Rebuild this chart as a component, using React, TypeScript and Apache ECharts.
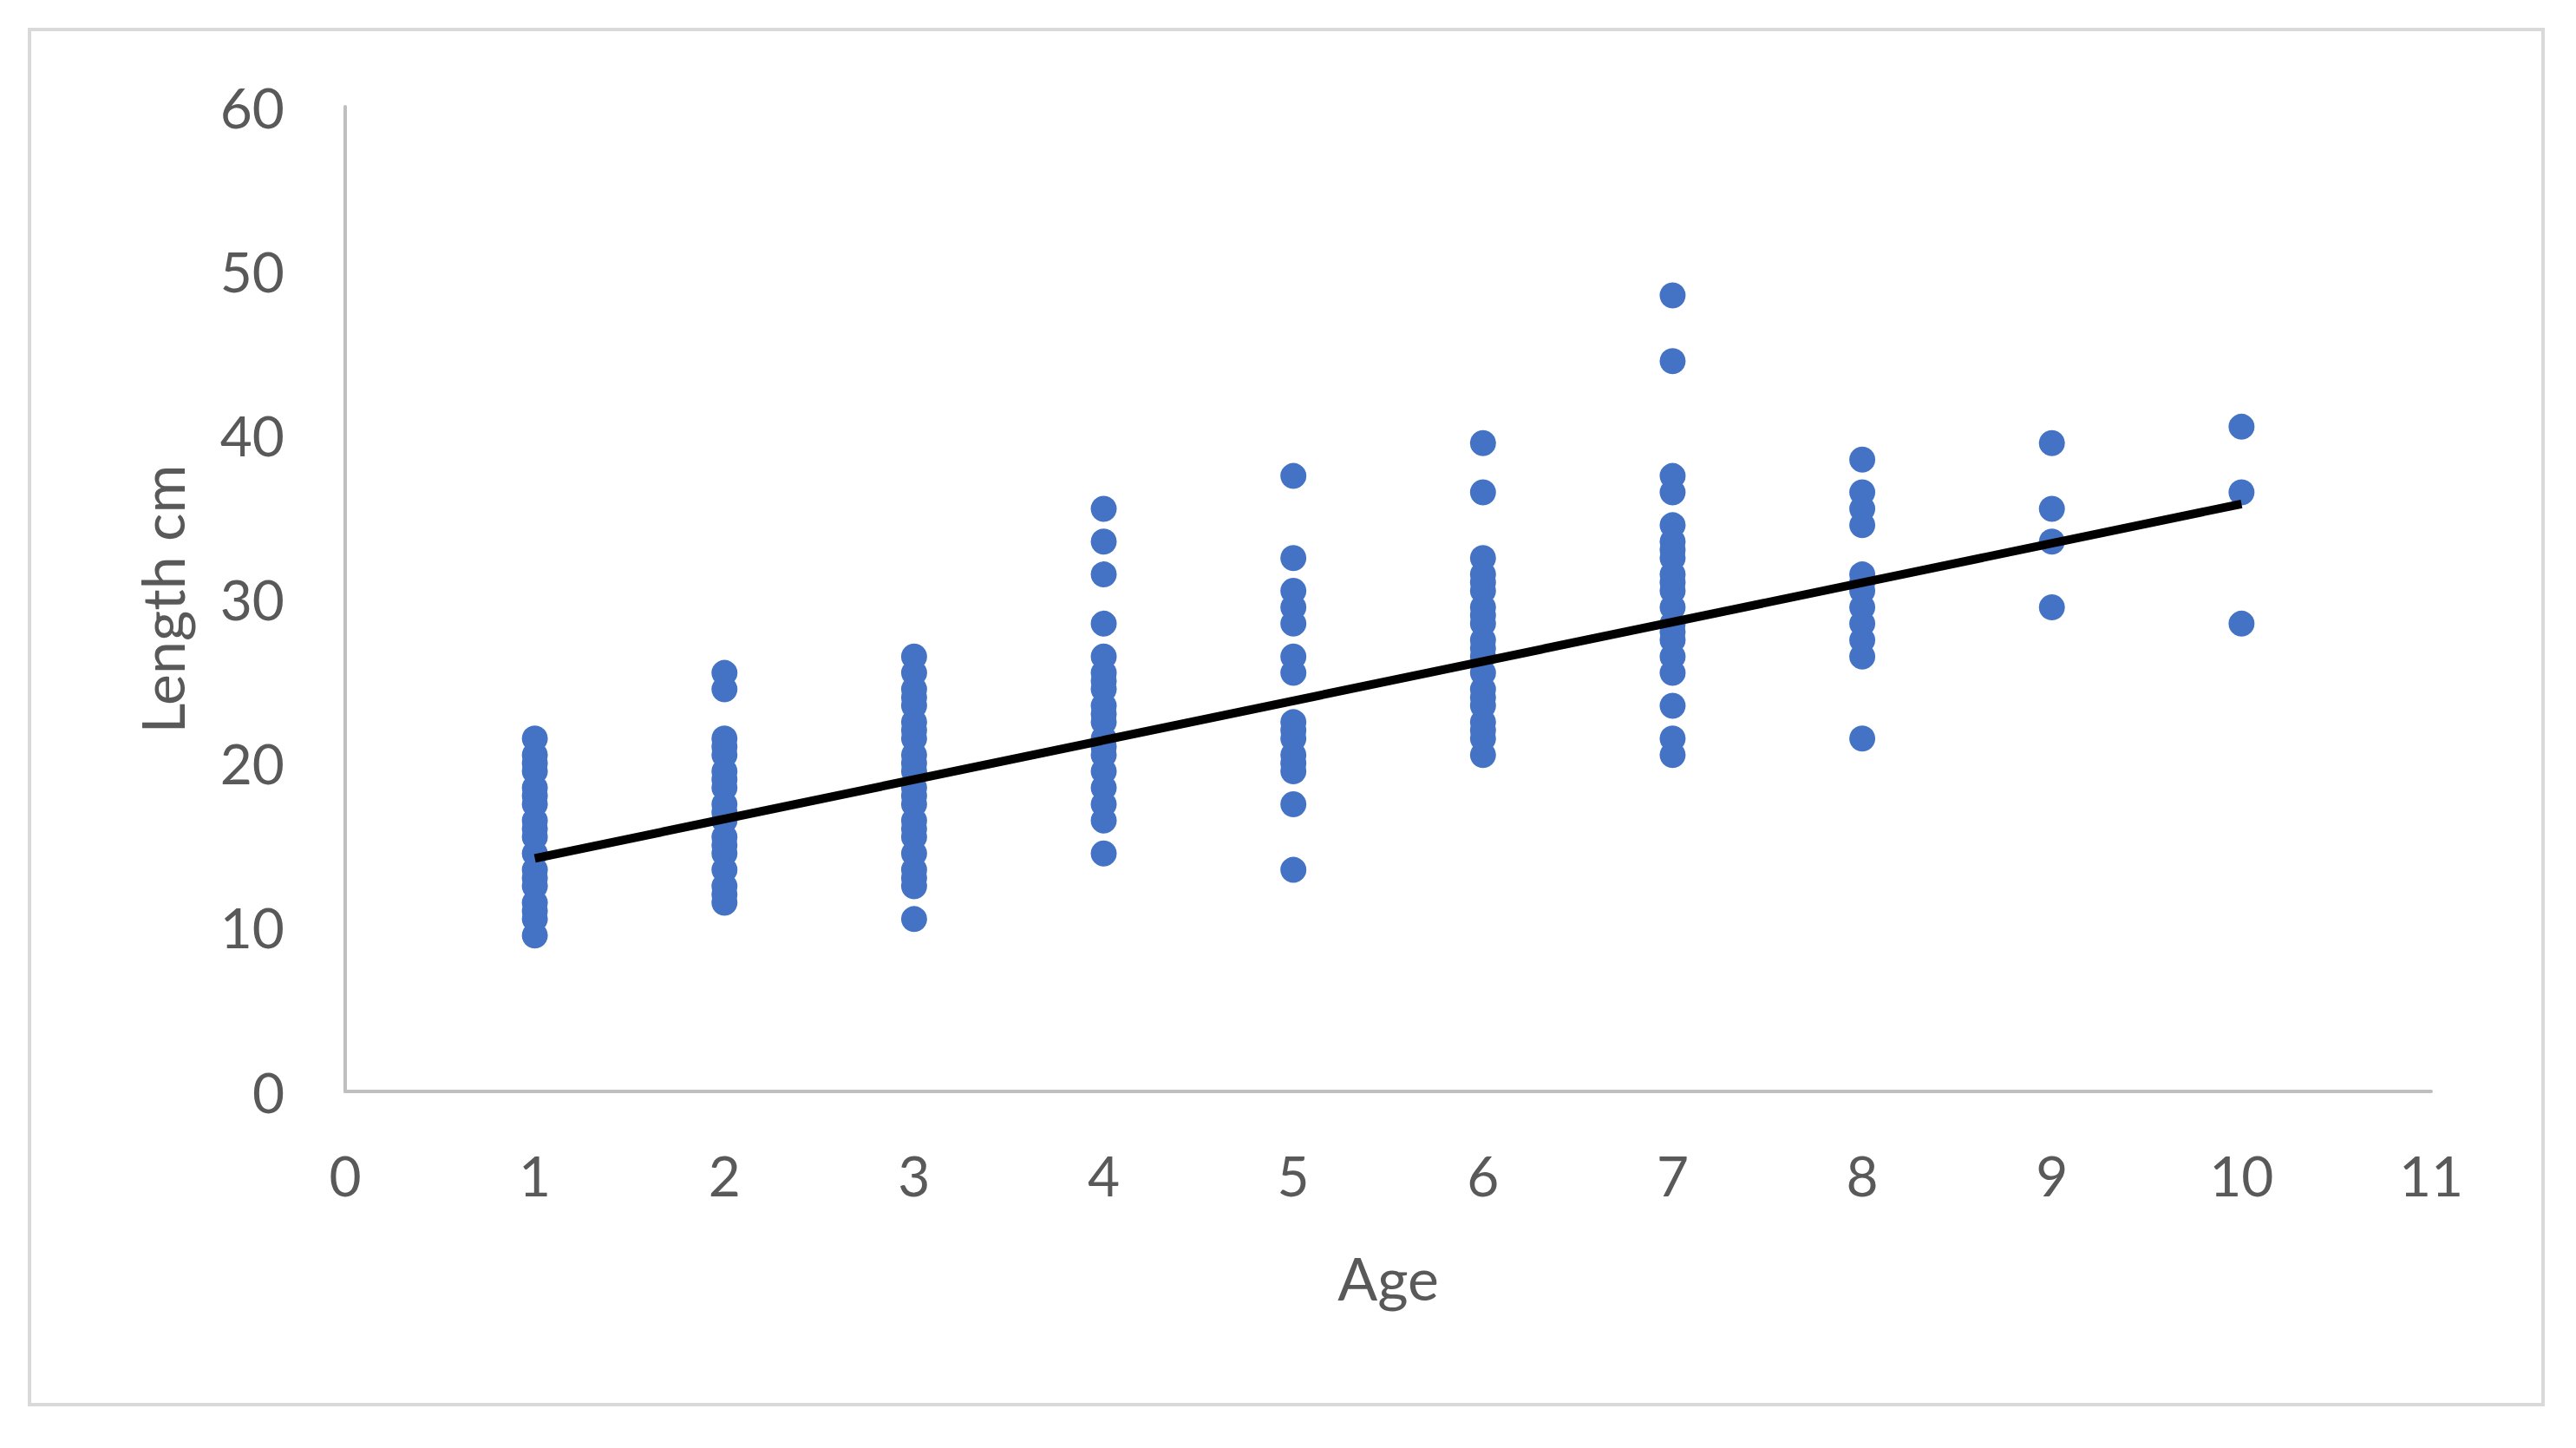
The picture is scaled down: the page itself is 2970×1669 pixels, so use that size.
import React, { useEffect, useRef } from "react";
import * as echarts from "echarts";

// Ages (x categories on a value axis)
const ages = [1, 2, 3, 4, 5, 6, 7, 8, 9, 10];

const lenAge1 = [21.5, 20.5, 20, 19.5, 18.5, 18, 17.5, 16.5, 16, 15.5, 14.5, 13.5, 13, 12.5, 11.5, 11, 10.5, 9.5];
const lenAge2 = [25.5, 24.5, 21.5, 21, 20.5, 19.5, 19, 18.5, 17.5, 17, 16.5, 15.5, 15, 14.5, 13.5, 12.5, 12, 11.5];
const lenAge3 = [26.5, 25.5, 24.5, 24, 23.5, 22.5, 22, 21.5, 20.5, 20, 19.5, 18.5, 18, 17.5, 16.5, 16, 15.5, 14.5, 13.5, 13, 12.5, 10.5];
const lenAge4 = [35.5, 33.5, 31.5, 28.5, 26.5, 25.5, 25, 24.5, 23.5, 23, 22.5, 21.5, 21, 20.5, 19.5, 18.5, 17.5, 16.5, 14.5];
const lenAge5 = [37.5, 32.5, 30.5, 29.5, 28.5, 26.5, 25.5, 22.5, 22, 21.5, 20.5, 20, 19.5, 17.5, 13.5];
const lenAge6 = [39.5, 36.5, 32.5, 31.5, 31, 30.5, 29.5, 29, 28.5, 27.5, 27, 26.5, 25.5, 24.5, 24, 23.5, 22.5, 22, 21.5, 20.5];
const lenAge7 = [48.5, 44.5, 37.5, 36.5, 34.5, 33.5, 33, 32.5, 31.5, 31, 30.5, 29.5, 28.5, 28, 27.5, 26.5, 25.5, 23.5, 21.5, 20.5];
const lenAge8 = [38.5, 36.5, 35.5, 34.5, 31.5, 31, 30.5, 29.5, 28.5, 27.5, 26.5, 21.5];
const lenAge9 = [39.5, 35.5, 33.5, 29.5];
const lenAge10 = [40.5, 36.5, 28.5];

const lengthsByAge = [lenAge1, lenAge2, lenAge3, lenAge4, lenAge5, lenAge6, lenAge7, lenAge8, lenAge9, lenAge10];

// Linear trend line end points
const trendX = [1, 10];
const trendY = [14.2, 35.8];

// Axis tick values
const xTicks = [0, 1, 2, 3, 4, 5, 6, 7, 8, 9, 10, 11];
const yTicks = [0, 10, 20, 30, 40, 50, 60];

const W = 2970;
const H = 1669;
const FONT = "Lato, 'Open Sans', sans-serif";

export default function App() {
  const ref = useRef<HTMLDivElement>(null);

  useEffect(() => {
    if (!ref.current) return;
    const chart = echarts.init(ref.current, null, { renderer: "svg" });

    const scatterData: number[][] = [];
    lengthsByAge.forEach((arr, i) => {
      arr.forEach((v) => scatterData.push([ages[i], v]));
    });
    const trendData = trendX.map((x, i) => [x, trendY[i]]);

    chart.setOption({
      animation: false,
      backgroundColor: "#ffffff",
      textStyle: { fontFamily: FONT },
      grid: { left: 398, right: W - 2803, top: 123, bottom: H - 1258, containLabel: false },
      graphic: [
        {
          type: "rect",
          shape: { x: 34, y: 34, width: 2932 - 34, height: 1619 - 34 },
          style: { fill: "none", stroke: "#d9d9d9", lineWidth: 4 },
          silent: true,
          z: -1,
        },
      ],
      xAxis: {
        type: "value",
        min: xTicks[0],
        max: xTicks[xTicks.length - 1],
        interval: 1,
        name: "Age",
        nameLocation: "middle",
        nameGap: 180,
        nameTextStyle: { fontFamily: FONT, fontSize: 68, color: "#595959" },
        axisLine: { show: true, onZero: false, lineStyle: { color: "#bfbfbf", width: 4 } },
        axisTick: { show: false },
        splitLine: { show: false },
        axisLabel: { fontFamily: FONT, fontSize: 64, color: "#595959", margin: 64 },
      },
      yAxis: {
        type: "value",
        min: yTicks[0],
        max: yTicks[yTicks.length - 1],
        interval: 10,
        name: "Length cm",
        nameLocation: "middle",
        nameGap: 178,
        nameRotate: 90,
        nameTextStyle: { fontFamily: FONT, fontSize: 68, color: "#595959" },
        axisLine: { show: true, onZero: false, lineStyle: { color: "#bfbfbf", width: 4 } },
        axisTick: { show: false },
        splitLine: { show: false },
        axisLabel: { fontFamily: FONT, fontSize: 64, color: "#595959", margin: 70 },
      },
      series: [
        {
          type: "scatter",
          data: scatterData,
          symbol: "circle",
          symbolSize: 30,
          itemStyle: { color: "#4472c4", opacity: 1 },
          z: 2,
        },
        {
          type: "line",
          data: trendData,
          showSymbol: false,
          symbol: "none",
          lineStyle: { color: "#000000", width: 10 },
          z: 3,
        },
      ],
    });

    return () => chart.dispose();
  }, []);

  return (
    <div
      ref={ref}
      style={{ position: "fixed", left: 0, top: 0, width: W, height: H, background: "#fff" }}
    />
  );
}
